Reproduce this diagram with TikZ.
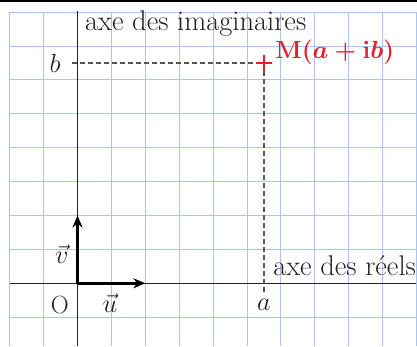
\documentclass[tikz,border=0pt]{standalone}
\usepackage{amsmath}
\usetikzlibrary{arrows.meta}
\definecolor{gridblue}{RGB}{172,196,240}
\definecolor{mred}{RGB}{228,32,44}
\definecolor{dashgray}{RGB}{85,85,85}
\definecolor{txt}{RGB}{35,35,35}
\tikzset{
  lbl/.style={inner sep=0pt, text=txt, font=\fontsize{28.6}{33}\selectfont},
  mlbl/.style={inner sep=0pt, text=txt, font=\fontsize{24.88}{30}\selectfont, scale=1.06},
  axisline/.style={line width=1.2bp, txt},
  vecline/.style={line width=2.8bp, black, -{Stealth[length=12bp,width=10bp]}},
  proj/.style={dashgray, line width=1.3bp, dash pattern=on 5bp off 3bp},
}
\begin{document}
\begin{tikzpicture}[x=33.9bp,y=33.9bp]
\useasboundingbox (-2.286,-1.85) rectangle (10.015,8.357);
\fill[white] (-2.286,-1.85) rectangle (10.015,8.357);
\fill[black] (-2.286,8.30) rectangle (10.015,8.357);
\draw[gridblue, line width=0.9bp, step=1] (-2,-1.85) grid (10,8);
\coordinate (O) at (0,0);
\coordinate (xl) at (-2,0);
\coordinate (xr) at (10.0,0);
\coordinate (yb) at (0,-1.85);
\coordinate (yt) at (0,8.02);
\draw[axisline] (xl) -- (xr);
\draw[axisline] (yb) -- (yt);
\coordinate (U) at (2,0);
\coordinate (V) at (0,2);
\draw[vecline] (O) -- (U);
\draw[vecline] (O) -- (V);
\coordinate (M) at (5.5,6.5);
\coordinate (bt) at (-0.16,6.5);
\coordinate (at) at (5.5,-0.26);
\draw[proj] (bt) -- (M) -- (at);
\draw[mred, line width=2.3bp] ([xshift=-8bp]M) -- ([xshift=8bp]M) ([yshift=-8bp]M) -- ([yshift=8bp]M);
\node[lbl, anchor=base west] (imag) at (0.22,7.47) {axe des imaginaires};
\node[lbl, anchor=base west] (reel) at (5.77,0.245) {axe des réels};
\node[mlbl] (bl) at (-0.66,6.5) {$b$};
\node[mlbl] (al) at (5.5,-0.64) {$a$};
\node[inner sep=0pt, text=txt, font=\fontsize{25}{30}\selectfont] (ol) at (-0.52,-0.64) {O};
\node[mlbl] (ul) at (0.96,-0.58) {$\vec{u}$};
\node[mlbl] (vl) at (-0.46,0.86) {$\vec{v}$};
\node[lbl, text=mred, anchor=base west, font=\fontsize{24.88}{29}\selectfont\boldmath] (ml) at (5.83,6.64) {$\mathbf{M}(a+\mathbf{i}b)$};
\end{tikzpicture}
\end{document}
